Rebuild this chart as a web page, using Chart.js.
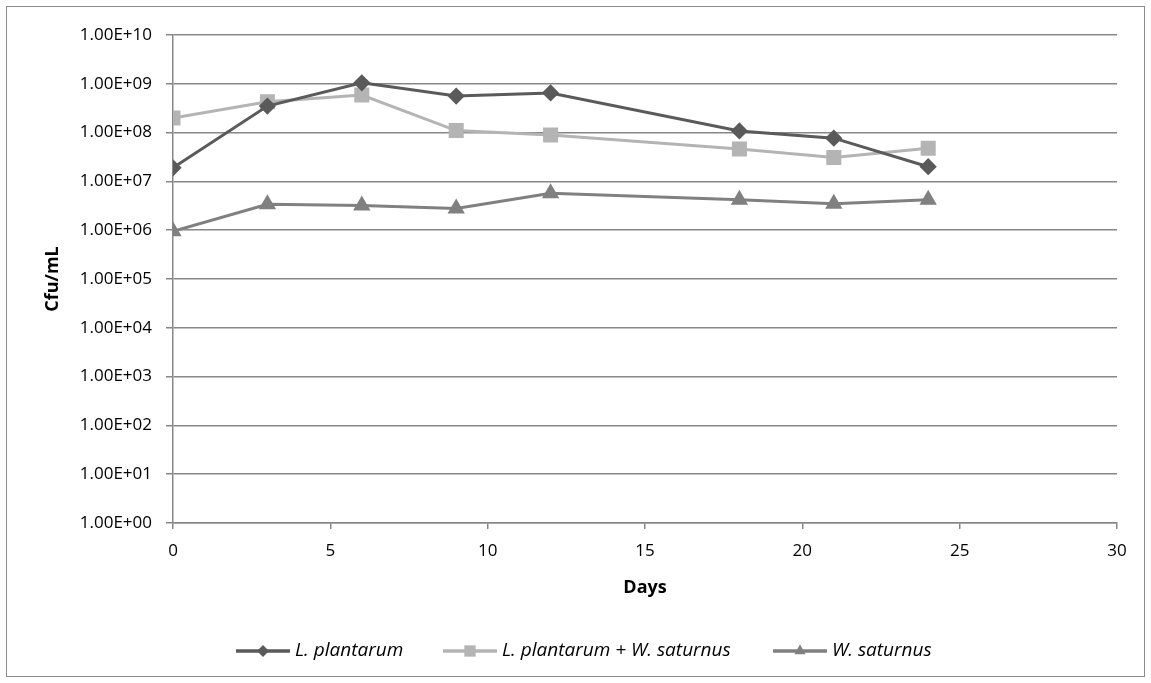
<!DOCTYPE html>
<html>
<head>
<meta charset="utf-8">
<script src="https://cdn.jsdelivr.net/npm/chart.js@4"></script>
<style>
  html, body { margin: 0; padding: 0; background: #fff; }
  #wrap { width: 1151px; height: 683px; }
</style>
</head>
<body>
<div id="wrap"><canvas id="chart" width="1151" height="683"></canvas></div>
<script>
// data
const days = [0, 3, 6, 9, 12, 18, 21, 24];
const lPlantarum = [1.9e7, 3.5e8, 1.05e9, 5.6e8, 6.5e8, 1.08e8, 7.7e7, 2.0e7];
const lPlantarumWSaturnus = [2.0e8, 4.3e8, 5.9e8, 1.1e8, 8.9e7, 4.6e7, 3.1e7, 4.8e7];
const wSaturnus = [9.5e5, 3.4e6, 3.2e6, 2.8e6, 5.7e6, 4.2e6, 3.5e6, 4.2e6];
const seriesNames = ['L. plantarum', 'L. plantarum + W. saturnus', 'W. saturnus'];
const yTickValues = [1e0, 1e1, 1e2, 1e3, 1e4, 1e5, 1e6, 1e7, 1e8, 1e9, 1e10];
const yTickLabels = ['1.00E+00', '1.00E+01', '1.00E+02', '1.00E+03', '1.00E+04', '1.00E+05',
                     '1.00E+06', '1.00E+07', '1.00E+08', '1.00E+09', '1.00E+10'];

const font = "'Open Sans', 'Liberation Sans', sans-serif";
const gridColor = '#878787';

function pts(ys) {
    return days.map((d, i) => ({ x: d, y: ys[i] }));
}

function drawMarker(c, style, x, y, r, color) {
    c.fillStyle = color;
    c.beginPath();
    if (style === 'rectRot') {
        c.moveTo(x, y - r); c.lineTo(x + r, y); c.lineTo(x, y + r); c.lineTo(x - r, y);
    } else if (style === 'rect') {
        const h = r * Math.SQRT1_2;
        c.rect(x - h, y - h, h * 2, h * 2);
    } else {
        c.moveTo(x, y - r); c.lineTo(x + r * 0.87, y + r * 0.5); c.lineTo(x - r * 0.87, y + r * 0.5);
    }
    c.closePath();
    c.fill();
}

// outer frame + legend under the axis title
const decor = {
    id: 'decor',
    beforeDraw(chart) {
        const c = chart.ctx;
        c.save();
        c.fillStyle = '#fff';
        c.fillRect(0, 0, chart.width, chart.height);
        c.strokeStyle = '#8c8c8c';
        c.lineWidth = 1;
        c.strokeRect(6.5, 6.5, 1138, 670);
        c.restore();
    },
    afterDraw(chart) {
        const c = chart.ctx;
        const y = 651;
        const starts = [236, 443, 773];
        c.save();
        c.font = 'italic 19px ' + font;
        c.textBaseline = 'middle';
        chart.data.datasets.forEach((ds, i) => {
            const x = starts[i];
            c.strokeStyle = ds.borderColor;
            c.lineWidth = 3.5;
            c.beginPath();
            c.moveTo(x, y);
            c.lineTo(x + 54, y);
            c.stroke();
            drawMarker(c, ds.pointStyle, x + 27, y, ds.pointRadius - 0.5, ds.borderColor);
            c.fillStyle = '#000';
            c.fillText(ds.label, x + 59, y);
        });
        c.restore();
    }
};

new Chart(document.getElementById('chart'), {
    type: 'line',
    data: {
        datasets: [
            {
                label: seriesNames[0], data: pts(lPlantarum),
                borderColor: '#5a5a5a', backgroundColor: '#5a5a5a',
                pointStyle: 'rectRot', pointRadius: 6.5, borderWidth: 3
            },
            {
                label: seriesNames[1], data: pts(lPlantarumWSaturnus),
                borderColor: '#b4b4b4', backgroundColor: '#b4b4b4',
                pointStyle: 'rect', pointRadius: 8.5, borderWidth: 3
            },
            {
                label: seriesNames[2], data: pts(wSaturnus),
                borderColor: '#808080', backgroundColor: '#808080',
                pointStyle: 'triangle', pointRadius: 7, borderWidth: 3
            }
        ]
    },
    options: {
        responsive: false,
        animation: false,
        layout: { padding: { left: 0, top: 35, right: 34, bottom: 73 } },
        plugins: {
            legend: { display: false },
            tooltip: { enabled: false }
        },
        elements: { line: { tension: 0 }, point: { borderWidth: 0 } },
        scales: {
            x: {
                type: 'linear',
                min: 0, max: 30,
                ticks: { stepSize: 5, color: '#000', font: { family: font, size: 17 }, padding: 12 },
                grid: { drawOnChartArea: false, drawTicks: true, tickLength: 6, color: gridColor, lineWidth: 1.5 },
                border: { color: gridColor, width: 1.5 },
                title: { display: true, text: 'Days', color: '#000', font: { family: font, size: 18, weight: 'bold' }, padding: { top: 0, bottom: 11 } },
                afterFit(s) { s.height = 87; }
            },
            y: {
                type: 'logarithmic',
                min: 1, max: 1e10,
                afterBuildTicks(s) { s.ticks = yTickValues.map(v => ({ value: v })); },
                ticks: {
                    color: '#000', font: { family: font, size: 17 }, padding: 14,
                    callback: (v) => yTickLabels[yTickValues.indexOf(v)]
                },
                grid: { color: gridColor, lineWidth: 1.5, tickLength: 7 },
                border: { color: gridColor, width: 1.5 },
                title: { display: true, text: 'Cfu/mL', color: '#000', font: { family: font, size: 18, weight: 'bold' }, padding: { top: 42, bottom: 0 } },
                afterFit(s) { s.width = 173; }
            }
        }
    },
    plugins: [decor]
});
</script>
</body>
</html>
